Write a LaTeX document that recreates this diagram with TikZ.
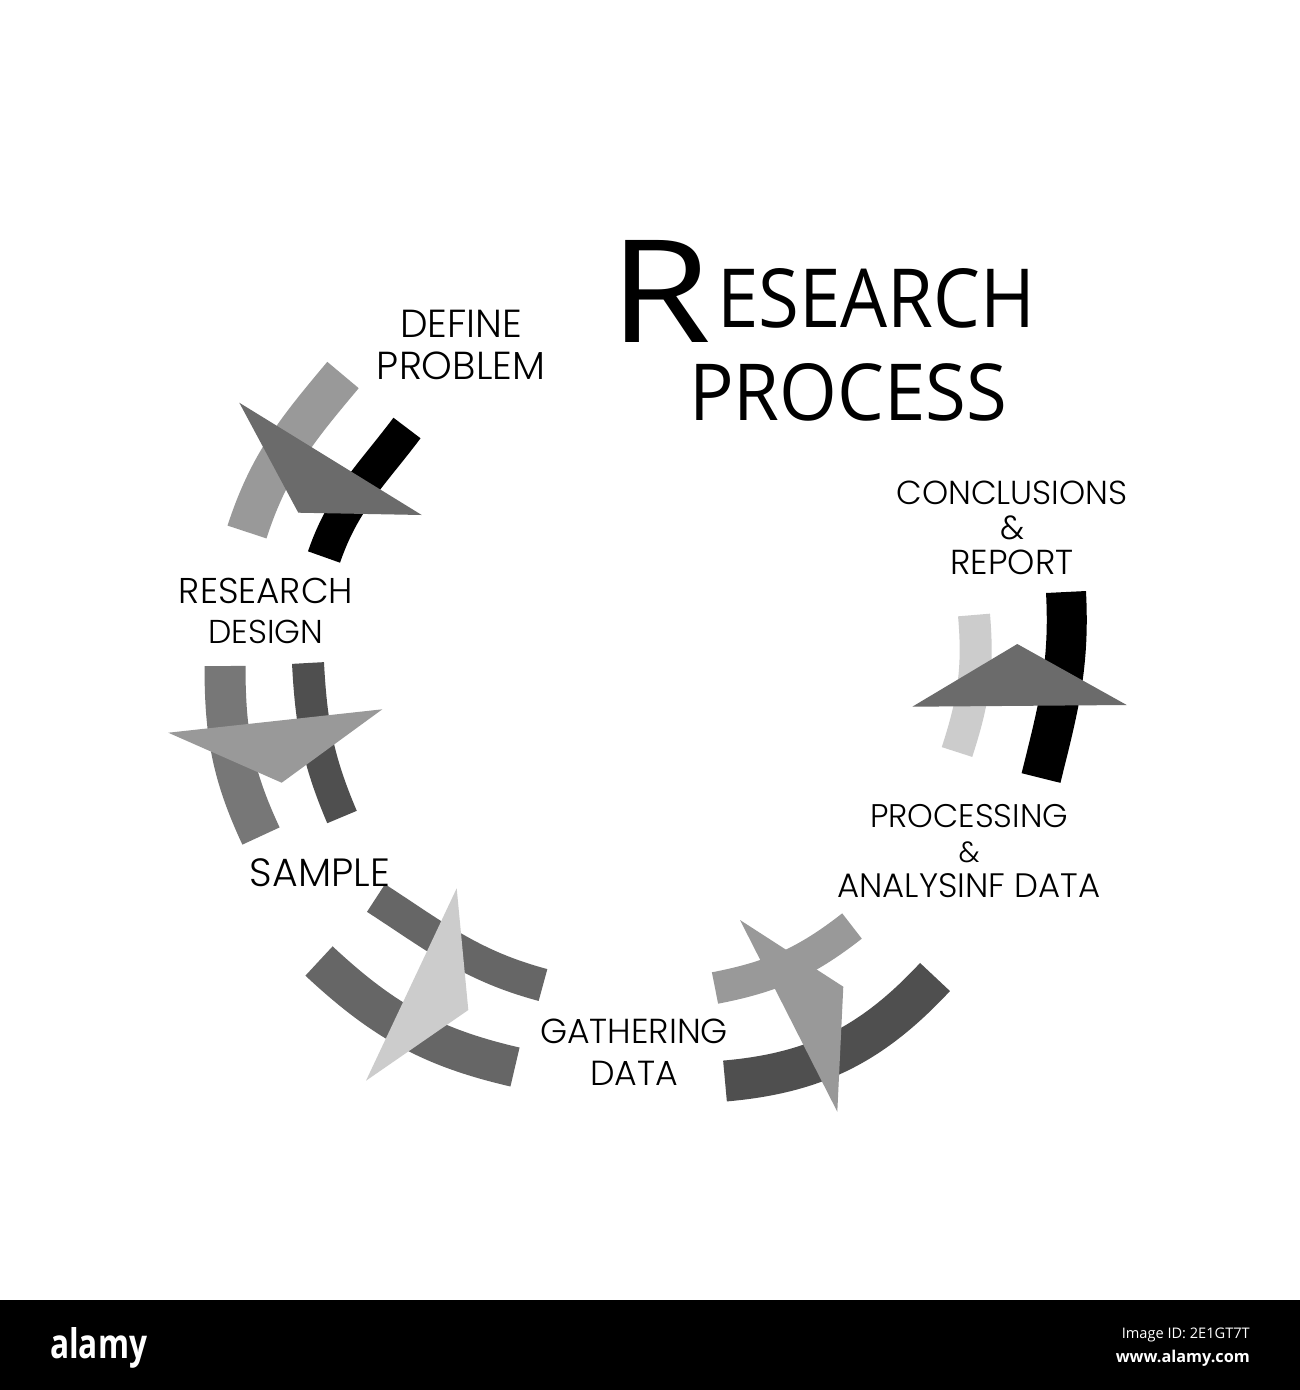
\documentclass[tikz,border=0pt]{standalone}
\usepackage{fontspec}
\usepackage{graphicx}
\setmainfont{Open Sans}
\newfontfamily\ttl{Open Sans}
\IfFontExistsTF{Poppins Light}{\newfontfamily\lbl{Poppins Light}}{\newfontfamily\lbl{Poppins}}
\definecolor{gLight}{HTML}{CCCCCC}
\definecolor{gMid}{HTML}{999999}
\definecolor{gMed}{HTML}{777777}
\definecolor{gTri}{HTML}{6B6B6B}
\definecolor{gBand}{HTML}{666666}
\definecolor{gDark}{HTML}{4F4F4F}
\newcommand\fw[2]{\resizebox{#1pt}{!}{#2}}
\tikzset{
  band/.style={line width=#1pt, line cap=butt},
  lab/.style={inner sep=0pt, align=center, anchor=north, text=black},
  tpart/.style={inner sep=0pt, anchor=base west, font=\ttl},
}
\begin{document}
\begin{tikzpicture}[x=1pt,y=-1pt]
\useasboundingbox (0,0) rectangle (1300,1390);
\fill[white] (0,0) rectangle (1300,1390);

% group 1: define problem
\draw[band=41, gMid] (343,375) to[out=-130, in=72] (247,532);
\draw[band=34, black] (407,428) to[out=-127, in=71] (324,557);
\fill[gTri] (239.3,402.7) -- (421.7,515) -- (298.3,512.7) -- cycle;

% group 2: research design
\draw[band=41, gMed] (225,666) to[out=-90, in=115] (261,836);
\draw[band=32, gDark] (308,663) to[out=-87, in=113] (342,817);
\fill[gMid] (168.3,732.7) -- (382.3,709.3) -- (281.7,782.7) -- cycle;

% group 3: sample
\draw[band=33, gBand] (376,898) to[out=-33, in=165] (543,985);
\draw[band=40, gBand] (319,961) to[out=-43, in=167] (515,1067);
\fill[gLight] (456.7,888.3) -- (468.3,1010) -- (366,1080.7) -- cycle;

% group 4: gathering data
\draw[band=32, gMid] (715,988) to[out=11, in=-142] (852,926);
\draw[band=41, gDark] (725,1081) to[out=5, in=-133] (935,977);
\fill[gMid] (740,920) -- (843.3,986.7) -- (837.3,1111.7) -- cycle;

% group 5: conclusions
\draw[band=32, gLight] (974,615) to[out=-85, in=72] (957,752);
\draw[band=40, black] (1066,592) to[out=-87, in=76] (1041,778);
\fill[gTri] (912.3,706.7) -- (1017.3,644) -- (1126.7,705) -- cycle;

% title
\node[tpart] (tR) at (609,342) {\resizebox{102pt}{102pt}{R}};
\node[tpart] (tE) at (717,327) {\resizebox{318pt}{59pt}{ESEARCH}};
\node[tpart] (tP) at (689,420) {\resizebox{318pt}{57pt}{PROCESS}};

% labels
\node[lab, font=\lbl\fontsize{32}{42}\selectfont] (define) at (461,310) {\fw{122}{DEFINE}\\\fw{168}{PROBLEM}};
\node[lab, font=\lbl\fontsize{32}{40}\selectfont] (design) at (266,578) {\fw{174}{RESEARCH}\\\fw{115}{DESIGN}};
\node[lab, font=\lbl\fontsize{32}{42}\selectfont] (sample) at (320,858) {\fw{140}{SAMPLE}};
\node[lab, font=\lbl\fontsize{32}{42}\selectfont] (gather) at (634,1019) {\fw{188}{GATHERING}\\\fw{88}{DATA}};
\node[lab, font=\lbl\fontsize{32}{35}\selectfont] (proc) at (969,804) {\fw{198}{PROCESSING}\\\fw{21}{\&}\\\fw{263}{ANALYSINF DATA}};
\node[lab, font=\lbl\fontsize{32}{35}\selectfont] (concl) at (1012,481) {\fw{231}{CONCLUSIONS}\\\fw{24}{\&}\\\fw{123}{REPORT}};

% banner
\fill[black] (0,1300) rectangle (1300,1390);
\node[tpart, text=white, font=\ttl\bfseries] (logo) at (50,1358) {\resizebox{97pt}{31pt}{alamy}};
\node[inner sep=0pt, anchor=base east, text=white, font=\ttl] (imgid) at (1250,1338) {\resizebox{128pt}{!}{Image ID: 2E1GT7T}};
\node[inner sep=0pt, anchor=base east, text=white, font=\ttl\bfseries] (site) at (1250,1362) {\resizebox{134pt}{!}{www.alamy.com}};
\end{tikzpicture}
\end{document}
